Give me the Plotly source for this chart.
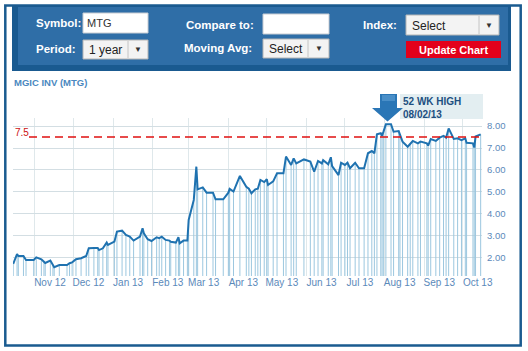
import plotly.graph_objects as go

# ---------------- data ----------------
dates = [
    "2012-10-15", "2012-10-18", "2012-10-19", "2012-10-23", "2012-10-25", "2012-10-31",
    "2012-11-02", "2012-11-06", "2012-11-08", "2012-11-09", "2012-11-13", "2012-11-15",
    "2012-11-16", "2012-11-20", "2012-11-26", "2012-11-28", "2012-11-30",
    "2012-12-03", "2012-12-07", "2012-12-11", "2012-12-13", "2012-12-17", "2012-12-20",
    "2012-12-21", "2012-12-24", "2012-12-27", "2012-12-28",
    "2013-01-02", "2013-01-04", "2013-01-08", "2013-01-11", "2013-01-14", "2013-01-17",
    "2013-01-22", "2013-01-24", "2013-01-25", "2013-01-28", "2013-01-31",
    "2013-02-04", "2013-02-06", "2013-02-08", "2013-02-11", "2013-02-14", "2013-02-15",
    "2013-02-19", "2013-02-21", "2013-02-22", "2013-02-25", "2013-02-28",
    "2013-03-01", "2013-03-05", "2013-03-07", "2013-03-08", "2013-03-12", "2013-03-15",
    "2013-03-20", "2013-03-22", "2013-03-28",
    "2013-04-01", "2013-04-02", "2013-04-05", "2013-04-10", "2013-04-15", "2013-04-17",
    "2013-04-19", "2013-04-22", "2013-04-24", "2013-04-26", "2013-04-29",
    "2013-05-01", "2013-05-02", "2013-05-06", "2013-05-09", "2013-05-14", "2013-05-16",
    "2013-05-20", "2013-05-22", "2013-05-24", "2013-05-30",
    "2013-06-04", "2013-06-07", "2013-06-10", "2013-06-13", "2013-06-14", "2013-06-18",
    "2013-06-20", "2013-06-21", "2013-06-26", "2013-06-28",
    "2013-07-01", "2013-07-03", "2013-07-05", "2013-07-09", "2013-07-12", "2013-07-16",
    "2013-07-19", "2013-07-22", "2013-07-24", "2013-07-26", "2013-07-29", "2013-07-30",
    "2013-07-31",
    "2013-08-02", "2013-08-06", "2013-08-08", "2013-08-12", "2013-08-13", "2013-08-15",
    "2013-08-19", "2013-08-21", "2013-08-23", "2013-08-27", "2013-08-29",
    "2013-09-03", "2013-09-04", "2013-09-06", "2013-09-10", "2013-09-13", "2013-09-16",
    "2013-09-18", "2013-09-20", "2013-09-24", "2013-09-27", "2013-09-30",
    "2013-10-03", "2013-10-04", "2013-10-09", "2013-10-10", "2013-10-11", "2013-10-15",
]
prices = [
    1.73, 2.18, 2.09, 2.09, 1.91, 1.91,
    2.03, 1.94, 1.83, 1.77, 1.88, 1.64, 1.58, 1.68, 1.68, 1.76, 1.80,
    1.94, 1.99, 2.09, 2.44, 2.45, 2.45, 2.36, 2.44, 2.70, 2.59,
    2.74, 3.20, 3.24, 3.05, 2.97, 2.79, 2.97, 3.35, 3.12, 2.85, 2.77,
    2.94, 2.90, 2.97, 2.82, 2.79, 2.74, 2.70, 2.94, 2.67, 2.79, 2.79,
    3.73, 4.64, 6.15, 5.12, 5.21, 4.97, 4.97, 4.67, 4.67,
    4.97, 5.14, 5.02, 5.73, 5.24, 5.15, 4.94, 5.12, 5.15, 5.55, 5.45,
    5.58, 5.32, 5.48, 5.85, 5.85, 6.61, 6.23, 6.53, 6.30, 6.48,
    6.38, 5.92, 6.41, 6.30, 6.45, 6.26, 6.58, 6.18, 5.77, 6.33,
    6.23, 6.33, 6.08, 6.33, 6.08, 6.08, 6.76, 6.86, 6.76, 7.62, 7.67, 7.56, 7.72,
    8.08, 8.08, 7.74, 7.77, 7.62, 7.29, 7.06, 7.21, 7.32, 7.21, 7.29,
    7.21, 7.11, 7.41, 7.32, 7.47, 7.55, 7.47, 7.89, 7.41, 7.44, 7.36,
    7.44, 7.24, 7.21, 7.02, 7.52, 7.62,
]
month_ticks = ["2012-11-01", "2012-12-01", "2013-01-01", "2013-02-01", "2013-03-01",
               "2013-04-01", "2013-05-01", "2013-06-01", "2013-07-01", "2013-08-01",
               "2013-09-01", "2013-10-01"]
month_labels = ["Nov 12", "Dec 12", "Jan 13", "Feb 13", "Mar 13", "Apr 13", "May 13",
                "Jun 13", "Jul 13", "Aug 13", "Sep 13", "Oct 13"]
price_ticks = [2, 3, 4, 5, 6, 7, 8]
price_labels = ["2.00", "3.00", "4.00", "5.00", "6.00", "7.00", "8.00"]
ref_level = 7.5
ref_label = "7.5"
title_text = "MGIC INV (MTG)"
high_label = "52 WK HIGH"
high_date_label = "08/02/13"

# ---------------- geometry helpers ----------------
W, H = 528, 351
L, R, T, B = 13, 482, 118, 276


def X(px):
    return (px - L) / (R - L)


def Y(py):
    return (B - py) / (B - T)


Y_MIN, Y_MAX = 1.18, 8.364

# stems from bottom to each price
stem_x, stem_y = [], []
for d, v in zip(dates, prices):
    stem_x += [d, d, None]
    stem_y += [Y_MIN - 1, v, None]

fig = go.Figure()
fig.add_trace(go.Scatter(x=stem_x, y=stem_y, mode="lines",
                         line=dict(color="#9cc7df", width=1), hoverinfo="skip"))
fig.add_trace(go.Scatter(x=dates, y=prices, mode="lines",
                         line=dict(color="#1f72b0", width=2)))

FONT = "Arial, Liberation Sans, sans-serif"
shapes = []
ann = []


def rect(x0, y0, x1, y1, fill, line=None, lw=0):
    shapes.append(dict(type="rect", xref="paper", yref="paper",
                       x0=X(x0), x1=X(x1), y0=Y(y1), y1=Y(y0),
                       fillcolor=fill, line=dict(color=line or fill, width=lw)))


def vline(x, y0, y1, color, lw=1):
    shapes.append(dict(type="line", xref="paper", yref="paper",
                       x0=X(x), x1=X(x), y0=Y(y0), y1=Y(y1),
                       line=dict(color=color, width=lw)))


def text(x, y, s, size=11, color="white", bold=False, anchor="left"):
    ann.append(dict(xref="paper", yref="paper", x=X(x), y=Y(y), text=(f"<b>{s}</b>" if bold else s),
                    showarrow=False, xanchor=anchor, yanchor="middle",
                    font=dict(family=FONT, size=size, color=color)))


# outer frame
shapes.append(dict(type="rect", xref="paper", yref="paper",
                   x0=X(5.3), x1=X(520.7), y0=Y(345.5), y1=Y(5.5),
                   line=dict(color="#1a5b90", width=2.5), fillcolor="rgba(0,0,0,0)"))
# header
rect(12, 5, 511, 71, "#1a5a90")
rect(18, 7, 508, 65, "#2f6ea7")

# labels
text(34, 23, "Symbol:", 11.5, bold=True)
text(184, 25, "Compare to:", 11.5, bold=True)
text(361, 25, "Index:", 11.5, bold=True)
text(34, 49, "Period:", 11.5, bold=True)
text(182, 47.5, "Moving Avg:", 11.5, bold=True)

# input boxes
rect(83, 13, 148, 33, "#ffffff", "#c8ccd2", 1)
text(85, 23, "MTG", 11, "#333333")
rect(263, 14, 329, 34, "#ffffff", "#c8ccd2", 1)

# select boxes
for (x0, y0, x1, y1, div, label) in [(406, 15, 499, 35, 479, "Select"),
                                     (83, 40, 148, 59, 128, "1 year"),
                                     (263, 39, 329, 58, 308, "Select")]:
    rect(x0, y0, x1, y1, "#f3f3f3", "#b5b5b5", 1)
    vline(div, y0 + 1, y1 - 1, "#c4c4c4", 1)
    text(x0 + 4, (y0 + y1) / 2 + 1, label, 12, "#222222")
    text((div + x1) / 2, (y0 + y1) / 2, "▼", 8, "#333333", anchor="center")

# update button
rect(406, 41, 501, 58, "#e3001b")
text(453.5, 49.8, "Update Chart", 11, bold=True, anchor="center")

# chart title
text(12, 83, title_text, 9.5, "#4a88c0", bold=True)

# 7.5 reference line and label
shapes.append(dict(type="line", xref="paper", yref="y", x0=X(29), x1=1,
                   y0=ref_level, y1=ref_level,
                   line=dict(color="#e01010", width=1.5, dash="8px,5px")))
text(12.5, 132, ref_label, 10, "#cc1111")

# 52 week high callout
rect(400, 94, 483, 119, "#e3eef1")
ann.append(dict(xref="paper", yref="paper", x=X(401), y=Y(101), text=f"<b>{high_label}</b>",
                showarrow=False, xanchor="left", yanchor="middle",
                font=dict(family=FONT, size=10, color="#1d4f80")))
ann.append(dict(xref="paper", yref="paper", x=X(401), y=Y(114), text=f"<b>{high_date_label}</b>",
                showarrow=False, xanchor="left", yanchor="middle",
                font=dict(family=FONT, size=10, color="#1d4f80")))
pts = [(380, 94), (397, 94), (397, 108), (403, 108), (387.5, 121.5), (372, 108), (380, 108)]
path = "M " + " L ".join(f"{X(a):.5f},{Y(b):.5f}" for a, b in pts) + " Z"
shapes.append(dict(type="path", xref="paper", yref="paper", path=path,
                   fillcolor="#2a76b6", line=dict(width=0)))
rect(382, 95, 395, 101, "#4a8fc8")

fig.update_layout(
    width=W, height=H,
    margin=dict(l=L, r=W - R, t=T, b=H - B, pad=0),
    paper_bgcolor="white", plot_bgcolor="white",
    showlegend=False,
    shapes=shapes, annotations=ann,
    xaxis=dict(type="date", range=["2012-10-14 20:00", "2013-10-16 01:00"],
               tickvals=month_ticks, ticktext=month_labels,
               showgrid=True, gridcolor="#dfe8eb", gridwidth=1,
               ticks="", ticklabelshift=15, ticklabelstandoff=-1,
               tickfont=dict(family=FONT, size=10, color="#5b89ba"),
               showline=False, zeroline=False, fixedrange=True),
    yaxis=dict(range=[Y_MIN, Y_MAX], side="right",
               tickvals=price_ticks, ticktext=price_labels,
               showgrid=True, gridcolor="#d3dee3", gridwidth=1,
               ticks="", ticklabelstandoff=4,
               tickfont=dict(family=FONT, size=9.5, color="#5b89ba"),
               showline=False, zeroline=False, fixedrange=True),
)

fig.write_html("out.html")
